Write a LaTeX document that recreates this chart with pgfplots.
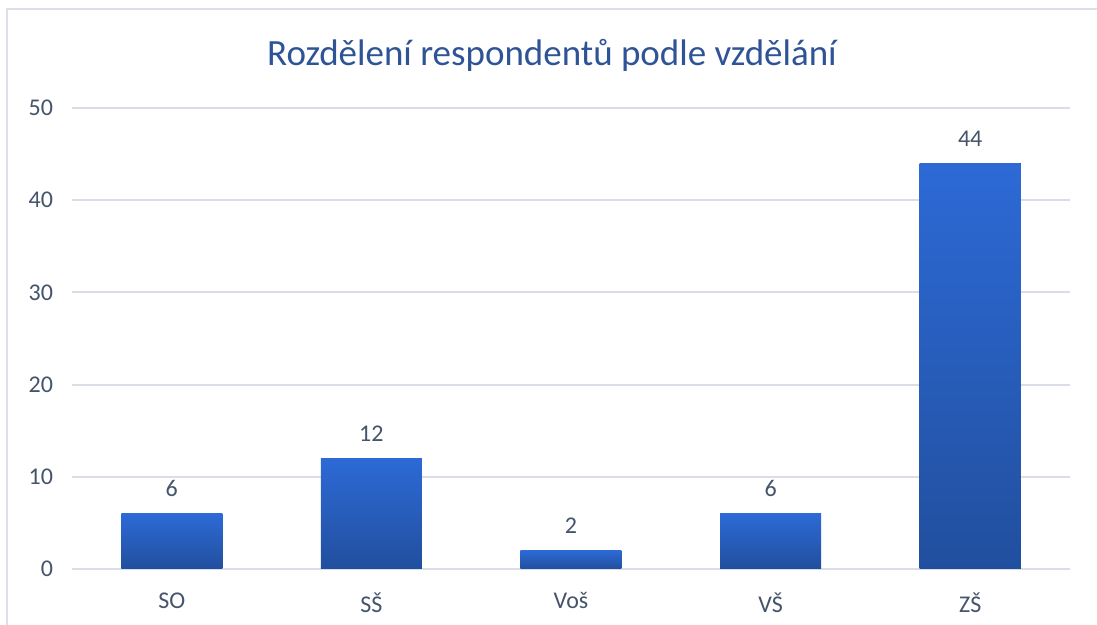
\documentclass[border=0pt]{standalone}
\usepackage{fontspec}
\setmainfont{Carlito}
\usepackage{pgfplots}
\pgfplotsset{compat=1.18}

\definecolor{gridc}{HTML}{D9DEE6}
\definecolor{framec}{HTML}{DCE1E8}
\definecolor{textc}{HTML}{44546A}
\definecolor{titlec}{HTML}{2F5496}
\definecolor{bartop}{HTML}{2D6AD6}
\definecolor{barbot}{HTML}{214F9E}

\begin{document}
\begin{tikzpicture}
\useasboundingbox (0,0) rectangle (548.5pt,312.5pt);
\fill[white] (0,0) rectangle (548.5pt,312.5pt);
\draw[framec, line width=1pt] (3.5pt,0) -- (3.5pt,308pt) -- (548.5pt,308pt);

\node[text=titlec, font=\fontsize{18.5}{21}\selectfont] at (276pt,285pt) {Rozdělení respondentů podle vzdělání};

\begin{axis}[
    at={(36pt,28pt)},
    anchor=south west,
    scale only axis,
    width=499pt,
    height=230.5pt,
    xmin=-0.5, xmax=4.5,
    ymin=0, ymax=50,
    ytick={0,10,...,50},
    xtick={0,1,2,3,4},
    xticklabels={SO, SŠ, Voš, VŠ, ZŠ},
    axis line style={draw=none},
    tick style={draw=none},
    ymajorgrids,
    major grid style={gridc, line width=1pt},
    ticklabel style={text=textc, font=\fontsize{12}{14}\selectfont},
    /pgf/number format/assume math mode=true,
    yticklabel style={anchor=east, xshift=-6pt},
    xticklabel style={yshift=-4pt},
    ybar,
    bar width=50.5pt,
    bar shift=0pt,
    nodes near coords,
    every node near coord/.append style={text=textc, font=\fontsize{12}{14}\selectfont, yshift=5pt},
    every axis plot/.append style={draw=none, top color=bartop, bottom color=barbot},
    clip=false
]
\addplot coordinates {(0,6)};
\addplot coordinates {(1,12)};
\addplot coordinates {(2,2)};
\addplot coordinates {(3,6)};
\addplot coordinates {(4,44)};
\end{axis}
\end{tikzpicture}
\end{document}
